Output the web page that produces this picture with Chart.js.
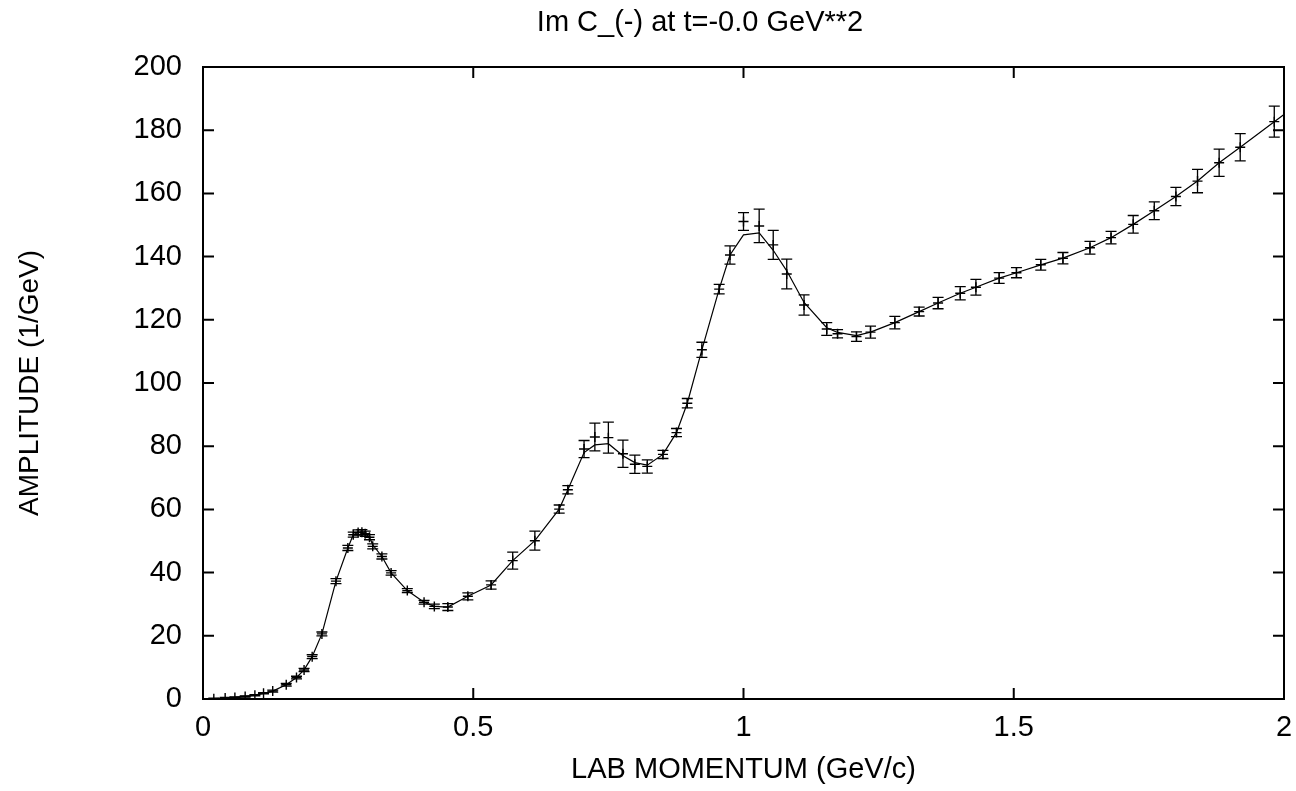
<!DOCTYPE html>
<html>
<head>
<meta charset="utf-8">
<script src="https://cdn.jsdelivr.net/npm/chart.js@4.4.1/dist/chart.umd.min.js"></script>
<style>
    html, body { margin: 0; padding: 0; background: #fff; }
    #wrap { width: 1296px; height: 791px; }
</style>
</head>
<body>
<div id="wrap"><canvas id="AmplitudeChart"></canvas></div>
<script>
// Measured points: lab momentum (GeV/c), amplitude (1/GeV) and its error
const momentum = [0.020, 0.041, 0.059, 0.078, 0.096, 0.112, 0.129, 0.154, 0.173, 0.187,
    0.202, 0.220, 0.246, 0.268, 0.278, 0.287, 0.294, 0.300, 0.308, 0.314,
    0.331, 0.348, 0.378, 0.409, 0.428, 0.453, 0.490, 0.533, 0.573, 0.614,
    0.659, 0.675, 0.705, 0.725, 0.750, 0.777, 0.799, 0.822, 0.851, 0.876,
    0.896, 0.923, 0.955, 0.975, 1.000, 1.029, 1.055, 1.080, 1.112, 1.154,
    1.174, 1.209, 1.235, 1.280, 1.325, 1.360, 1.401, 1.430, 1.473, 1.505,
    1.550, 1.591, 1.641, 1.680, 1.721, 1.760, 1.800, 1.840, 1.880, 1.919, 1.982];
const amplitude = [0.1, 0.3, 0.5, 0.8, 1.2, 1.8, 2.5, 4.5, 6.8, 9.2,
    13.4, 20.6, 37.3, 47.8, 52.0, 52.7, 52.8, 52.3, 51.2, 48.3,
    45.1, 39.9, 34.3, 30.6, 29.3, 29.1, 32.5, 36.1, 43.8, 50.1,
    60.1, 66.2, 79.1, 82.9, 82.7, 77.6, 74.3, 73.6, 77.4, 84.3,
    93.6, 110.5, 129.7, 140.5, 151.1, 149.7, 143.7, 134.5, 124.7, 117.1,
    115.6, 114.7, 116.1, 119.1, 122.6, 125.3, 128.4, 130.3, 133.2, 134.9,
    137.4, 139.5, 142.8, 146.0, 150.2, 154.5, 159.0, 163.9, 169.7, 174.6, 182.7];
const amplitudeError = [0.2, 0.2, 0.2, 0.2, 0.2, 0.2, 0.3, 0.4, 0.4, 0.5,
    0.6, 0.6, 0.8, 0.8, 0.8, 0.8, 0.8, 0.8, 0.8, 0.8,
    0.8, 0.7, 0.6, 0.6, 0.7, 1.1, 1.1, 1.3, 2.7, 3.0,
    1.3, 1.3, 2.7, 4.4, 4.9, 4.3, 2.9, 2.1, 1.3, 1.3,
    1.5, 2.4, 1.5, 2.9, 2.8, 5.3, 4.6, 4.7, 3.2, 2.0,
    1.3, 1.5, 1.9, 2.0, 1.4, 1.8, 2.1, 2.5, 1.7, 1.6,
    1.7, 1.8, 2.0, 2.0, 2.8, 2.8, 2.9, 3.7, 4.3, 4.3, 4.9];

// Fitted curve
const fitMomentum = [0.000, 0.020, 0.041, 0.059, 0.078, 0.096, 0.112, 0.129, 0.154, 0.173, 0.187,
    0.202, 0.220, 0.246, 0.268, 0.278, 0.287, 0.294, 0.300, 0.308, 0.314,
    0.331, 0.348, 0.378, 0.409, 0.428, 0.453, 0.490, 0.533, 0.573, 0.614,
    0.659, 0.675, 0.705, 0.725, 0.750, 0.777, 0.799, 0.822, 0.851, 0.876,
    0.896, 0.923, 0.955, 0.975, 1.000, 1.029, 1.055, 1.080, 1.112, 1.154,
    1.174, 1.209, 1.235, 1.280, 1.325, 1.360, 1.401, 1.430, 1.473, 1.505,
    1.550, 1.591, 1.641, 1.680, 1.721, 1.760, 1.800, 1.840, 1.880, 1.919, 1.982, 2.000];
const fitAmplitude = [0.0, 0.1, 0.3, 0.5, 0.8, 1.2, 1.8, 2.5, 4.5, 6.8, 9.2,
    13.4, 20.6, 37.3, 47.8, 52.0, 52.7, 52.8, 52.3, 51.2, 48.8,
    45.1, 39.9, 34.3, 30.6, 29.3, 29.1, 32.5, 36.1, 43.8, 50.1,
    60.1, 66.2, 78.0, 80.4, 80.8, 77.0, 74.8, 74.0, 77.4, 84.3,
    93.6, 110.5, 129.7, 140.5, 146.9, 147.5, 142.0, 135.5, 125.5, 117.5,
    116.0, 115.0, 116.1, 119.1, 122.6, 125.3, 128.4, 130.3, 133.2, 134.9,
    137.4, 139.5, 142.8, 146.0, 150.2, 154.5, 159.0, 163.9, 169.7, 174.6, 182.7, 185.0];

// Axes
const xTicks = [0, 0.5, 1, 1.5, 2];
const xTickLabels = ['0', '0.5', '1', '1.5', '2'];
const yTicks = [0, 20, 40, 60, 80, 100, 120, 140, 160, 180, 200];
const yTickLabels = ['0', '20', '40', '60', '80', '100', '120', '140', '160', '180', '200'];

const chartTitle = 'Im C_(-) at t=-0.0 GeV**2';
const fontFamily = '"Liberation Sans", Arial, Helvetica, sans-serif';

// error bars with caps
const errorBars = {
    id: 'errorBars',
    afterDatasetsDraw(chart) {
        const { ctx, scales: { x, y } } = chart;
        ctx.save();
        ctx.strokeStyle = '#000';
        ctx.lineWidth = 1.3;
        momentum.forEach((p, i) => {
            const px = x.getPixelForValue(p);
            const lo = y.getPixelForValue(amplitude[i] - amplitudeError[i]);
            const hi = y.getPixelForValue(amplitude[i] + amplitudeError[i]);
            ctx.beginPath();
            ctx.moveTo(px, lo); ctx.lineTo(px, hi);
            ctx.moveTo(px - 5.5, lo); ctx.lineTo(px + 5.5, lo);
            ctx.moveTo(px - 5.5, hi); ctx.lineTo(px + 5.5, hi);
            ctx.stroke();
        });
        ctx.restore();
    }
};

// gnuplot style frame: box border, inward ticks on all four sides, title
const frame = {
    id: 'frame',
    afterDraw(chart) {
        const { ctx, chartArea: a, scales: { x, y } } = chart;
        const tl = 11;
        ctx.save();
        ctx.strokeStyle = '#000';
        ctx.lineWidth = 2;
        ctx.strokeRect(a.left, a.top, a.right - a.left, a.bottom - a.top);
        ctx.beginPath();
        xTicks.forEach(v => {
            const px = x.getPixelForValue(v);
            ctx.moveTo(px, a.bottom); ctx.lineTo(px, a.bottom - tl);
            ctx.moveTo(px, a.top); ctx.lineTo(px, a.top + tl);
        });
        yTicks.forEach(v => {
            const py = y.getPixelForValue(v);
            ctx.moveTo(a.left, py); ctx.lineTo(a.left + tl, py);
            ctx.moveTo(a.right, py); ctx.lineTo(a.right - tl, py);
        });
        ctx.stroke();

        ctx.fillStyle = '#000';
        ctx.font = '29px ' + fontFamily;
        ctx.textAlign = 'center';
        ctx.textBaseline = 'middle';
        ctx.fillText(chartTitle, 700, 23);
        ctx.restore();
    }
};

drawAmplitudeChart();

function drawAmplitudeChart() {
    var ctx = document.getElementById('AmplitudeChart');
    var tickFont = { family: fontFamily, size: 29 };
    var yTitleFont = { family: fontFamily, size: 28 };

    const data = {
        datasets: [{
            type: 'line',
            data: fitMomentum.map((m, i) => ({ x: m, y: fitAmplitude[i] })),
            borderColor: '#000',
            borderWidth: 1.2,
            pointRadius: 0,
            tension: 0,
            fill: false
        }, {
            type: 'scatter',
            data: momentum.map((m, i) => ({ x: m, y: amplitude[i] })),
            pointStyle: 'cross',
            pointRadius: 5,
            borderColor: '#000',
            backgroundColor: '#000',
            borderWidth: 1.4,
            showLine: false
        }]
    };

    const config = {
        type: 'scatter',
        data: data,
        plugins: [errorBars, frame],
        options: {
            responsive: true,
            maintainAspectRatio: false,
            animation: false,
            layout: { padding: { top: 67, right: 12, left: 0, bottom: 0 } },
            plugins: {
                legend: { display: false },
                tooltip: { enabled: false },
                title: { display: false }
            },
            scales: {
                x: {
                    type: 'linear',
                    min: 0,
                    max: 2,
                    afterBuildTicks: axis => { axis.ticks = xTicks.map(v => ({ value: v })); },
                    afterFit: scale => {
                        scale.height = 92;
                        scale.paddingLeft = 0;
                        scale.paddingRight = 0;
                    },
                    grid: { display: false, drawTicks: false },
                    border: { display: false },
                    ticks: {
                        callback: (v, i) => xTickLabels[i],
                        font: tickFont,
                        color: '#000',
                        padding: 12,
                        maxRotation: 0,
                        autoSkip: false
                    },
                    title: {
                        display: true,
                        text: 'LAB MOMENTUM (GeV/c)',
                        font: tickFont,
                        color: '#000',
                        padding: { top: 0, bottom: 4 }
                    }
                },
                y: {
                    type: 'linear',
                    min: 0,
                    max: 200,
                    afterBuildTicks: axis => { axis.ticks = yTicks.map(v => ({ value: v })); },
                    afterFit: scale => { scale.width = 203; },
                    grid: { display: false, drawTicks: false },
                    border: { display: false },
                    ticks: {
                        callback: (v, i) => yTickLabels[i],
                        font: tickFont,
                        color: '#000',
                        padding: 21,
                        autoSkip: false
                    },
                    title: {
                        display: true,
                        text: 'AMPLITUDE (1/GeV)',
                        font: yTitleFont,
                        color: '#000',
                        padding: { top: 13, bottom: 0 }
                    }
                }
            }
        }
    };

    new Chart(ctx, config);
}
</script>
</body>
</html>
